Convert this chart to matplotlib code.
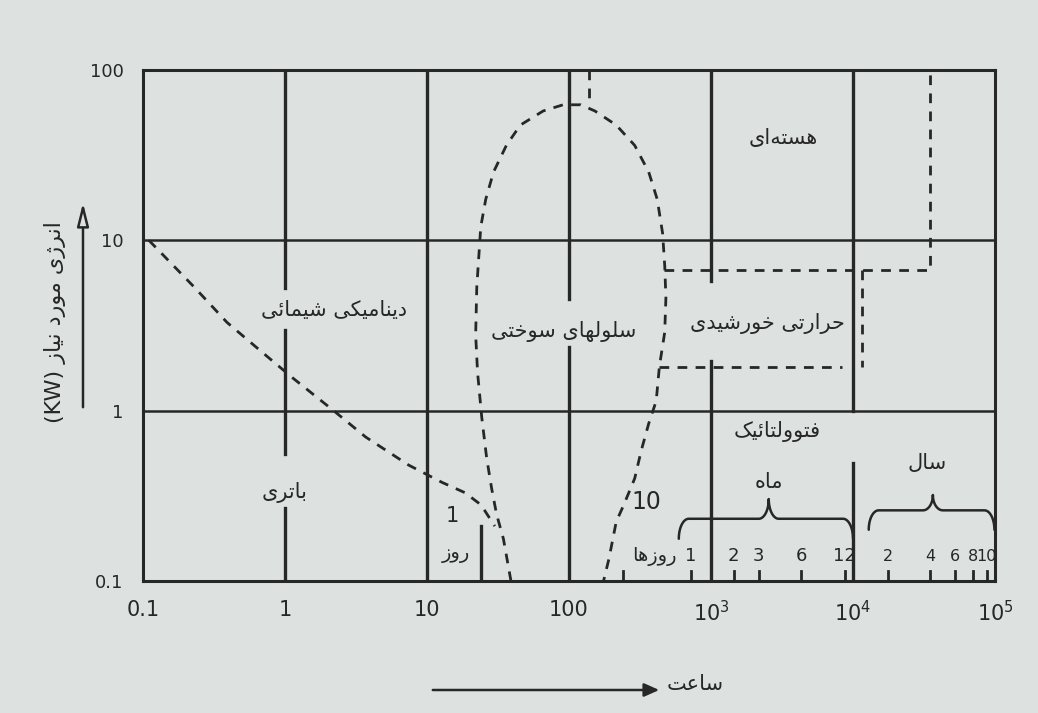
import numpy as np
import matplotlib
matplotlib.use('Agg')
import matplotlib.pyplot as plt
from matplotlib.patches import FancyArrowPatch

# ---- data (hours vs. kW, both log) ----
x_ticks = [0.1, 1, 10, 100, 1e3, 1e4, 1e5]
x_tick_labels = ['0.1', '1', '10', '100', '$10^3$', '$10^4$', '$10^5$']
y_ticks = [0.1, 1, 10, 100]
y_tick_labels = ['0.1', '1', '10', '100']

# battery limit (dashed, falling)
battery_h = [0.11, 0.23, 0.39, 0.71, 1.14, 2.2, 3.7, 7.4, 12.7, 18.5, 24, 30]
battery_kw = [10, 5.3, 3.3, 2.16, 1.55, 1.0, 0.70, 0.48, 0.38, 0.33, 0.28, 0.21]

# fuel cell dome (dashed)
fuel_h = [39, 34.5, 30.9, 28.5, 26.3, 24.3, 22.7, 22.0, 22.4, 23.9, 25.9, 29.4,
          36.2, 45.4, 65.8, 90.8, 121, 152, 215, 290, 364, 418, 456, 472, 481,
          472, 433, 411, 364, 322, 290, 243, 215, 191, 175]
fuel_kw = [0.1, 0.177, 0.246, 0.35, 0.527, 0.91, 1.67, 2.78, 5.3, 12.0, 17.4, 25.2,
           36.1, 47.5, 57.5, 62.5, 62.5, 57.5, 47.5, 36.1, 25.2, 17.4, 11.0, 7.1, 4.6,
           2.89, 1.82, 1.14, 0.84, 0.58, 0.40, 0.28, 0.223, 0.135, 0.1]
fuel_top_h = [139, 139]
fuel_top_kw = [100, 62.5]

# solar thermal box (dashed)
solar_upper_h = [470, 34700, 34700]
solar_upper_kw = [6.7, 6.7, 100]
solar_lower_h = [433, 8300]
solar_lower_kw = [1.8, 1.8]
solar_side_h = [11500, 11500]
solar_side_kw = [6.7, 1.8]

# solid region borders
grid_kw = [1, 10]
v_line_h = [1, 1, 1, 10, 24, 100, 100, 1e3, 1e3, 1e4, 1e4]
v_line_lo = [5.25, 0.56, 0.1, 0.1, 0.1, 4.5, 0.1, 5.75, 0.1, 1.0, 0.1]
v_line_hi = [100, 2.98, 0.27, 100, 0.21, 100, 2.36, 100, 1.95, 100, 0.49]

# time marks along the bottom
mark_h = [240, 720, 1440, 2160, 4320, 8760, 17520, 35040, 52560, 70080, 87600]
month_h = [720, 1440, 2160, 4320, 8760]
month_labels = ['1', '2', '3', '6', '12']
year_h = [17520, 35040, 52560, 70080, 87600]
year_labels = ['2', '4', '6', '8', '10']

# region names
region_names = ['هسته‌ای', 'حرارتی خورشیدی', 'فتوولتائیک', 'سلولهای سوختی',
                'دینامیکی شیمائی', 'باتری']
region_h = [3200, 2500, 2900, 91, 2.2, 1.0]
region_kw = [40, 3.27, 0.75, 2.9, 3.9, 0.33]

# braces: (left, tip, right) in hours, (end, flat, tip) in kW
month_brace_h = [593, 2550, 10000]
month_brace_kw = [0.177, 0.232, 0.303]
year_brace_h = [12900, 36500, 99000]
year_brace_kw = [0.20, 0.26, 0.32]

INK = '#272727'
PAPER = '#dde2e1'

# ---- persian shaping (matplotlib has no bidi / joining) ----
FORMS = {
    'ا': ('\uFE8D', '\uFE8E', None, None),
    'ب': ('\uFE8F', '\uFE90', '\uFE91', '\uFE92'),
    'ت': ('\uFE95', '\uFE96', '\uFE97', '\uFE98'),
    'ح': ('\uFEA1', '\uFEA2', '\uFEA3', '\uFEA4'),
    'خ': ('\uFEA5', '\uFEA6', '\uFEA7', '\uFEA8'),
    'د': ('\uFEA9', '\uFEAA', None, None),
    'ر': ('\uFEAD', '\uFEAE', None, None),
    'ز': ('\uFEAF', '\uFEB0', None, None),
    'ژ': ('\uFB8A', '\uFB8B', None, None),
    'س': ('\uFEB1', '\uFEB2', '\uFEB3', '\uFEB4'),
    'ش': ('\uFEB5', '\uFEB6', '\uFEB7', '\uFEB8'),
    'ع': ('\uFEC9', '\uFECA', '\uFECB', '\uFECC'),
    'ف': ('\uFED1', '\uFED2', '\uFED3', '\uFED4'),
    'ک': ('\uFB8E', '\uFB8F', '\uFB90', '\uFB91'),
    'ل': ('\uFEDD', '\uFEDE', '\uFEDF', '\uFEE0'),
    'م': ('\uFEE1', '\uFEE2', '\uFEE3', '\uFEE4'),
    'ن': ('\uFEE5', '\uFEE6', '\uFEE7', '\uFEE8'),
    'ه': ('\uFEE9', '\uFEEA', '\uFEEB', '\uFEEC'),
    'و': ('\uFEED', '\uFEEE', None, None),
    'ی': ('\uFBFC', '\uFBFD', '\uFBFE', '\uFBFF'),
    'ئ': ('\uFE89', '\uFE8A', '\uFE8B', '\uFE8C'),
}


def fa(text):
    out = []
    for i, c in enumerate(text):
        if c not in FORMS:
            out.append(c)
            continue
        iso, fin, ini, med = FORMS[c]
        prev = text[i - 1] if i > 0 else ''
        nxt = text[i + 1] if i + 1 < len(text) else ''
        jp = prev in FORMS and FORMS[prev][2] is not None
        jn = nxt in FORMS and ini is not None
        if jp and jn:
            out.append(med)
        elif jp:
            out.append(fin)
        elif jn:
            out.append(ini)
        else:
            out.append(iso)
    return ''.join(ch for ch in reversed(out) if ch != '\u200c')


def brace(ax, hs, kws):
    # curly brace drawn in log space
    lx0, lxt, lx1 = np.log10(hs)
    ye, yf, yt = np.log10(kws)
    r = 0.07
    t = np.linspace(0, np.pi / 2, 20)
    xs = np.concatenate([lx0 + r * (1 - np.cos(t)),
                         lxt - r + r * np.sin(t),
                         lxt + r - r * np.sin(t[::-1]),
                         lx1 - r * (1 - np.cos(t[::-1]))])
    ys = np.concatenate([ye + (yf - ye) * np.sin(t),
                         yf + (yt - yf) * (1 - np.cos(t)),
                         yf + (yt - yf) * (1 - np.cos(t[::-1])),
                         ye + (yf - ye) * np.sin(t[::-1])])
    ax.plot(10 ** xs, 10 ** ys, color=INK, lw=1.8, solid_capstyle='round')


NUM_FONT = ['DejaVu Sans']
FA_FONT = ['DejaVu Sans']

fig = plt.figure(figsize=(10.38, 7.13), dpi=100, facecolor=PAPER)
ax = fig.add_axes([0.1378, 0.1851, 0.8208, 0.7167], facecolor=PAPER)
ax.set_xscale('log')
ax.set_yscale('log')
ax.set_xlim(0.1, 1e5)
ax.set_ylim(0.1, 100)

for s in ax.spines.values():
    s.set_color(INK)
    s.set_linewidth(2.2)

ax.set_xticks(x_ticks)
ax.set_xticklabels(x_tick_labels, family=NUM_FONT, fontsize=15, color=INK)
ax.set_yticks(y_ticks)
ax.set_yticklabels(y_tick_labels, family=NUM_FONT, fontsize=13, color=INK)
ax.minorticks_off()
ax.tick_params(length=0, pad=14)

# solid borders between the regions
for k in grid_kw:
    ax.axhline(k, color=INK, lw=1.8)
for h, lo, hi in zip(v_line_h, v_line_lo, v_line_hi):
    ax.plot([h, h], [lo, hi], color=INK, lw=2.4)

# dashed limits
dash = dict(color=INK, lw=2.0, linestyle=(0, (3.5, 3)))
ax.plot(battery_h, battery_kw, **dash)
ax.plot(fuel_h, fuel_kw, **dash)
ax.plot(fuel_top_h, fuel_top_kw, **dash)
ax.plot(solar_upper_h, solar_upper_kw, **dash)
ax.plot(solar_lower_h, solar_lower_kw, **dash)
ax.plot(solar_side_h, solar_side_kw, **dash)

# day / month / year marks
for h in mark_h:
    ax.plot([h, h], [0.1, 0.115], color=INK, lw=2.0)
for h, lab in zip(month_h, month_labels):
    ax.text(h, 0.14, lab, ha='center', va='center', family=NUM_FONT,
            fontsize=13, color=INK)
for h, lab in zip(year_h, year_labels):
    ax.text(h, 0.14, lab, ha='center', va='center', family=NUM_FONT,
            fontsize=11.5, color=INK)
ax.text(15, 0.24, '1', ha='center', va='center', family=NUM_FONT, fontsize=15, color=INK)
ax.text(16, 0.145, fa('روز'), ha='center', va='center', family=FA_FONT, fontsize=14, color=INK)
ax.text(350, 0.29, '10', ha='center', va='center', family=NUM_FONT, fontsize=17, color=INK)
ax.text(400, 0.14, fa('روزها'), ha='center', va='center', family=FA_FONT, fontsize=14, color=INK)

brace(ax, month_brace_h, month_brace_kw)
brace(ax, year_brace_h, year_brace_kw)
ax.text(2550, 0.38, fa('ماه'), ha='center', va='center', family=FA_FONT, fontsize=15, color=INK)
ax.text(33000, 0.49, fa('سال'), ha='center', va='center', family=FA_FONT, fontsize=15, color=INK)

for name, h, kw in zip(region_names, region_h, region_kw):
    ax.text(h, kw, fa(name), ha='center', va='center', family=FA_FONT,
            fontsize=15, color=INK)

# axis titles with arrows
fig.text(55 / 1038, 1 - 322 / 713, '(KW) ' + fa('انرژی مورد نیاز'), rotation=90,
         ha='center', va='center', family=FA_FONT, fontsize=16, color=INK)
fig.patches.append(FancyArrowPatch((83 / 1038, 1 - 410 / 713), (83 / 1038, 1 - 200 / 713),
                                   transform=fig.transFigure, arrowstyle='-|>,head_length=14,head_width=3.5',
                                   color=INK, fc=PAPER, lw=1.8))
fig.text(695 / 1038, 1 - 684 / 713, fa('ساعت'), ha='center', va='center',
         family=FA_FONT, fontsize=15, color=INK)
fig.patches.append(FancyArrowPatch((430 / 1038, 1 - 690 / 713), (662 / 1038, 1 - 690 / 713),
                                   transform=fig.transFigure, arrowstyle='-|>,head_length=9,head_width=4',
                                   color=INK, lw=1.8))

fig.savefig('out.png', dpi=100, facecolor=PAPER)
